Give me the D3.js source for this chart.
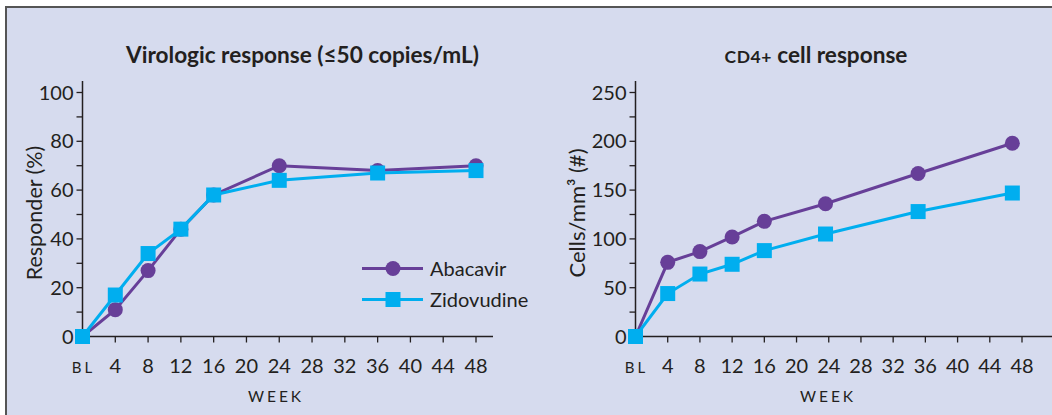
<!DOCTYPE html>
<html><head><meta charset="utf-8">
<script src="https://cdn.jsdelivr.net/npm/d3@7"></script>
<style>
html,body{margin:0;padding:0;background:#fff;}
text{font-family:Lato,"Open Sans",sans-serif;fill:#231f20;}
</style></head>
<body>
<svg id="chart" width="1052" height="415"></svg>
<script>
// Data
const weeksVirologic = [0, 4, 8, 12, 16, 24, 36, 48];
const virologicAbacavir = [0, 11, 27, 44, 58, 70, 68, 70];
const virologicZidovudine = [0, 17, 34, 44, 58, 64, 67, 68];
const weeksCD4 = [0, 4, 8, 12, 16, 23.6, 35.1, 46.8];
const cd4Abacavir = [0, 76, 87, 102, 118, 136, 167, 198];
const cd4Zidovudine = [0, 44, 64, 74, 88, 105, 128, 147];
const xTickValues = [0, 4, 8, 12, 16, 20, 24, 28, 32, 36, 40, 44, 48];
const xTickLabels = ["BL", "4", "8", "12", "16", "20", "24", "28", "32", "36", "40", "44", "48"];
const seriesNames = ["Abacavir", "Zidovudine"];

const purple = "#673f98", cyan = "#00aeef";
const svg = d3.select("#chart");

svg.append("rect").attr("x", 6).attr("y", 7).attr("width", 1100).attr("height", 500)
  .attr("fill", "#d6dbee").attr("stroke", "#555").attr("stroke-width", 2);

function panel(cfg) {
  const x = d3.scaleLinear().domain([0, 48]).range(cfg.xRange);
  const y = d3.scaleLinear().domain([0, cfg.yMax]).range([336.5, 92.5]);
  const g = svg.append("g");

  // y axis
  const yTicks = d3.range(0, cfg.yMax + 0.001, cfg.yMax / 10);
  const ya = g.append("g").attr("transform", `translate(${cfg.xRange[0]},0)`);
  ya.append("line").attr("x1", 0).attr("x2", 0).attr("y1", 81).attr("y2", 337.5)
    .attr("stroke", "#231f20").attr("stroke-width", 1.5);
  yTicks.forEach((t, i) => {
    ya.append("line").attr("x1", -6).attr("x2", 0).attr("y1", y(t)).attr("y2", y(t))
      .attr("stroke", "#231f20").attr("stroke-width", 1.3);
    if (i % 2 === 0) {
      ya.append("text").attr("x", -9).attr("y", y(t)).attr("dy", "0.35em")
        .attr("text-anchor", "end").attr("font-size", 20).text(d3.format("d")(t));
    }
  });

  // x axis
  const xa = g.append("g").attr("transform", `translate(0,336.5)`);
  xa.append("line").attr("x1", cfg.xRange[0] - 0.5).attr("x2", cfg.axisEnd).attr("y1", 0).attr("y2", 0)
    .attr("stroke", "#231f20").attr("stroke-width", 1.5);
  xTickValues.forEach((t, i) => {
    xa.append("line").attr("x1", x(t)).attr("x2", x(t)).attr("y1", 0).attr("y2", 6)
      .attr("stroke", "#231f20").attr("stroke-width", 1.3);
    const lab = xa.append("text").attr("x", x(t)).attr("y", 36.5)
      .attr("text-anchor", "middle").text(xTickLabels[i]);
    if (xTickLabels[i] === "BL") {
      lab.attr("font-size", 15).attr("letter-spacing", 3).attr("dx", 1);
    } else {
      lab.attr("font-size", 20);
    }
  });
  g.append("text").attr("x", cfg.weekX).attr("y", 402).attr("text-anchor", "middle")
    .attr("font-size", 15.5).attr("letter-spacing", 3).text("WEEK");

  // y label
  g.append("text").attr("transform", `translate(${cfg.yLabelX},213) rotate(-90)`)
    .attr("text-anchor", "middle").attr("font-size", cfg.yLabelSize).text(cfg.yLabel);

  // title
  cfg.title(g);

  // series
  const line = d3.line().x(d => x(d[0])).y(d => y(d[1]));
  const dataA = cfg.weeks.map((w, i) => [w, cfg.a[i]]);
  const dataZ = cfg.weeks.map((w, i) => [w, cfg.z[i]]);
  g.append("path").datum(dataA).attr("d", line).attr("fill", "none").attr("stroke", purple).attr("stroke-width", 3);
  g.selectAll(null).data(dataA).enter().append("circle")
    .attr("cx", d => x(d[0])).attr("cy", d => y(d[1])).attr("r", 7.5).attr("fill", purple);
  g.append("path").datum(dataZ).attr("d", line).attr("fill", "none").attr("stroke", cyan).attr("stroke-width", 3);
  g.selectAll(null).data(dataZ).enter().append("rect")
    .attr("x", d => x(d[0]) - 7.5).attr("y", d => y(d[1]) - 7.5).attr("width", 15).attr("height", 15).attr("fill", cyan);
}

panel({
  xRange: [82.5, 476], axisEnd: 493, yMax: 100, weekX: 276,
  weeks: weeksVirologic, a: virologicAbacavir, z: virologicZidovudine,
  yLabel: "Responder (%)", yLabelX: 42, yLabelSize: 21.5,
  title: g => g.append("text").attr("x", 302.5).attr("y", 63).attr("text-anchor", "middle")
    .attr("font-size", 22.6).attr("font-weight", 700).text("Virologic response (≤50 copies/mL)")
});

panel({
  xRange: [635.5, 1022], axisEnd: 1052, yMax: 250, weekX: 828,
  weeks: weeksCD4, a: cd4Abacavir, z: cd4Zidovudine,
  yLabel: "Cells/mm³ (#)", yLabelX: 585, yLabelSize: 22,
  title: g => {
    const t = g.append("text").attr("x", 816).attr("y", 63).attr("text-anchor", "middle")
      .attr("font-size", 22.6).attr("font-weight", 700);
    t.append("tspan").attr("font-size", 17.5).attr("letter-spacing", 0.5).text("CD4+");
    t.append("tspan").text(" cell response");
  }
});

// legend
const lg = svg.append("g");
[[seriesNames[0], purple, "circle", 268.5], [seriesNames[1], cyan, "rect", 299.5]].forEach(([name, col, shape, yy]) => {
  lg.append("line").attr("x1", 362).attr("x2", 423).attr("y1", yy).attr("y2", yy).attr("stroke", col).attr("stroke-width", 3);
  if (shape === "circle") lg.append("circle").attr("cx", 393).attr("cy", yy).attr("r", 7.5).attr("fill", col);
  else lg.append("rect").attr("x", 385.5).attr("y", yy - 7.5).attr("width", 15).attr("height", 15).attr("fill", col);
  lg.append("text").attr("x", 430).attr("y", yy).attr("dy", "0.35em").attr("font-size", 20).text(name);
});
</script>
</body></html>
